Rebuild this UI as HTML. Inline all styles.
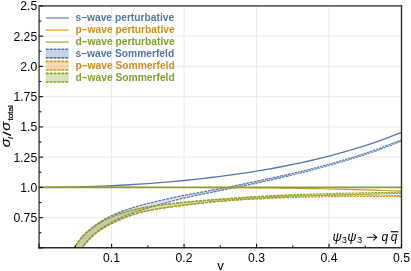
<!DOCTYPE html>
<html><head><meta charset="utf-8"><title>plot</title>
<style>html,body{margin:0;padding:0;background:#fff;overflow:hidden}body{width:411px;height:271px;font-family:"Liberation Sans",sans-serif}</style></head>
<body>
<svg width="411" height="271" viewBox="0 0 411 271" style="display:block;will-change:transform">
<rect width="411" height="271" fill="#fff"/>
<line x1="111.58" x2="111.58" y1="5.9" y2="247.8" stroke="#e3e3e3" stroke-width="0.8"/>
<line x1="184.06" x2="184.06" y1="5.9" y2="247.8" stroke="#e3e3e3" stroke-width="0.8"/>
<line x1="256.54" x2="256.54" y1="5.9" y2="247.8" stroke="#e3e3e3" stroke-width="0.8"/>
<line x1="329.02" x2="329.02" y1="5.9" y2="247.8" stroke="#e3e3e3" stroke-width="0.8"/>
<line x1="39.1" x2="401.5" y1="217.65" y2="217.65" stroke="#e3e3e3" stroke-width="0.8"/>
<line x1="39.1" x2="401.5" y1="187.40" y2="187.40" stroke="#e3e3e3" stroke-width="0.8"/>
<line x1="39.1" x2="401.5" y1="157.15" y2="157.15" stroke="#e3e3e3" stroke-width="0.8"/>
<line x1="39.1" x2="401.5" y1="126.90" y2="126.90" stroke="#e3e3e3" stroke-width="0.8"/>
<line x1="39.1" x2="401.5" y1="96.65" y2="96.65" stroke="#e3e3e3" stroke-width="0.8"/>
<line x1="39.1" x2="401.5" y1="66.40" y2="66.40" stroke="#e3e3e3" stroke-width="0.8"/>
<line x1="39.1" x2="401.5" y1="36.15" y2="36.15" stroke="#e3e3e3" stroke-width="0.8"/>
<clipPath id="c"><rect x="39.1" y="5.9" width="362.4" height="241.9"/></clipPath>
<g clip-path="url(#c)">
<path d="M69.5,257.28 69.8,256.74 70.3,255.55 71.1,253.90 72.0,251.93 73.2,249.73 74.5,247.36 76.0,244.91 77.7,242.45 79.5,240.02 81.4,237.65 83.5,235.36 85.7,233.14 88.1,230.99 90.6,228.89 93.2,226.82 95.9,224.79 98.8,222.82 101.8,220.92 104.9,219.09 108.1,217.35 111.4,215.72 114.9,214.17 118.4,212.71 122.1,211.30 125.9,209.96 129.8,208.67 133.8,207.43 137.9,206.23 142.1,205.06 146.4,203.92 150.8,202.80 155.3,201.69 159.9,200.59 164.6,199.50 169.4,198.43 174.3,197.38 179.3,196.35 184.4,195.34 189.6,194.36 194.8,193.37 200.2,192.37 205.7,191.36 211.2,190.34 216.9,189.29 222.6,188.21 228.4,187.07 234.4,185.87 240.4,184.62 246.5,183.35 252.6,182.05 258.9,180.75 265.3,179.42 271.7,178.05 278.2,176.63 284.8,175.16 291.5,173.63 298.3,172.03 305.2,170.35 312.1,168.60 319.2,166.77 326.3,164.87 333.5,162.89 340.7,160.81 348.1,158.63 355.5,156.34 363.1,153.91 370.7,151.36 378.3,148.66 386.1,145.80 393.9,142.79 401.9,139.60 401.9,140.90 393.9,144.10 386.1,147.12 378.3,149.99 370.7,152.69 363.1,155.25 355.5,157.68 348.1,159.98 340.7,162.17 333.5,164.26 326.3,166.24 319.2,168.16 312.1,170.01 305.2,171.80 298.3,173.51 291.5,175.16 284.8,176.75 278.2,178.29 271.7,179.78 265.3,181.22 258.9,182.61 252.6,183.94 246.5,185.22 240.4,186.47 234.4,187.68 228.4,188.87 222.6,190.03 216.9,191.19 211.2,192.33 205.7,193.47 200.2,194.60 194.8,195.73 189.6,196.87 184.4,198.02 179.3,199.21 174.3,200.47 169.4,201.77 164.6,203.11 159.9,204.46 155.3,205.82 150.8,207.16 146.4,208.48 142.1,209.82 137.9,211.19 133.8,212.62 129.8,214.09 125.9,215.62 122.1,217.20 118.4,218.85 114.9,220.56 111.4,222.35 108.1,224.20 104.9,226.12 101.8,228.11 98.8,230.22 95.9,232.45 93.2,234.83 90.6,237.37 88.1,240.05 85.7,242.87 83.5,245.81 81.4,248.85 79.5,251.96 77.7,255.10 76.0,258.23 74.5,261.30 73.2,264.26 72.0,267.01 71.1,269.47 70.3,271.52 69.8,273.01 69.5,273.69 Z" fill="#5e81b5" fill-opacity="0.22" stroke="none"/>
<path d="M290.0,173.98 284.8,175.16 278.2,176.63 271.7,178.05 265.3,179.42 258.9,180.75 252.6,182.05 246.5,183.35 240.4,184.62 234.4,185.87 228.4,187.07 222.6,188.21 216.9,189.29 211.2,190.34 205.7,191.36 200.2,192.37 194.8,193.37 189.6,194.36 184.4,195.34 179.3,196.35 174.3,197.38 169.4,198.43 164.6,199.50 159.9,200.59 155.3,201.69 150.8,202.80 146.4,203.92 142.1,205.06 137.9,206.23 133.8,207.43 129.8,208.67 125.9,209.96 122.1,211.30 118.4,212.71 114.9,214.17 111.4,215.72 108.1,217.35 104.9,219.09 101.8,220.92 98.8,222.82 95.9,224.79 93.2,226.82 90.6,228.89 88.1,230.99 85.7,233.14 83.5,235.36 81.4,237.65 79.5,240.02 77.7,242.45 76.0,244.91 74.5,247.36 73.2,249.73 72.0,251.93 71.1,253.90 70.3,255.55 69.8,256.74 69.5,257.28" fill="none" stroke="#5878ab" stroke-width="1.28" stroke-dasharray="2.95 0.93" stroke-dashoffset="0.58"/>
<path d="M401.9,139.60 393.9,142.79 386.1,145.80 378.3,148.66 370.7,151.36 363.1,153.91 355.5,156.34 348.1,158.63 340.7,160.81 333.5,162.89 326.3,164.87 319.2,166.77 312.1,168.60 305.2,170.35 298.3,172.03 291.5,173.63 290.0,173.98" fill="none" stroke="#5878ab" stroke-width="1.1" stroke-dasharray="2.3 0.95" stroke-dashoffset="0.49"/>
<path d="M290.0,175.52 284.8,176.75 278.2,178.29 271.7,179.78 265.3,181.22 258.9,182.61 252.6,183.94 246.5,185.22 240.4,186.47 234.4,187.68 228.4,188.87 222.6,190.03 216.9,191.19 211.2,192.33 205.7,193.47 200.2,194.60 194.8,195.73 189.6,196.87 184.4,198.02 179.3,199.21 174.3,200.47 169.4,201.77 164.6,203.11 159.9,204.46 155.3,205.82 150.8,207.16 146.4,208.48 142.1,209.82 137.9,211.19 133.8,212.62 129.8,214.09 125.9,215.62 122.1,217.20 118.4,218.85 114.9,220.56 111.4,222.35 108.1,224.20 104.9,226.12 101.8,228.11 98.8,230.22 95.9,232.45 93.2,234.83 90.6,237.37 88.1,240.05 85.7,242.87 83.5,245.81 81.4,248.85 79.5,251.96 77.7,255.10 76.0,258.23 74.5,261.30 73.2,264.26 72.0,267.01 71.1,269.47 70.3,271.52 69.8,273.01 69.5,273.69" fill="none" stroke="#5878ab" stroke-width="1.28" stroke-dasharray="2.95 0.93" stroke-dashoffset="2.52"/>
<path d="M401.9,140.90 393.9,144.10 386.1,147.12 378.3,149.99 370.7,152.69 363.1,155.25 355.5,157.68 348.1,159.98 340.7,162.17 333.5,164.26 326.3,166.24 319.2,168.16 312.1,170.01 305.2,171.80 298.3,173.51 291.5,175.16 290.0,175.52" fill="none" stroke="#5878ab" stroke-width="1.1" stroke-dasharray="2.3 0.95" stroke-dashoffset="2.11"/>

<path d="M69.5,257.41 69.8,256.87 70.3,255.68 71.1,254.05 72.0,252.09 73.2,249.91 74.5,247.56 76.0,245.14 77.7,242.70 79.5,240.31 81.4,237.99 83.5,235.74 85.7,233.57 88.1,231.47 90.6,229.44 93.2,227.45 95.9,225.50 98.8,223.62 101.8,221.81 104.9,220.10 108.1,218.49 111.4,216.99 114.9,215.60 118.4,214.29 122.1,213.06 125.9,211.90 129.8,210.82 133.8,209.80 137.9,208.85 142.1,207.96 146.4,207.13 150.8,206.37 155.3,205.68 159.9,205.05 164.6,204.48 169.4,203.94 174.3,203.42 179.3,202.91 184.4,202.40 189.6,201.89 194.8,201.40 200.2,200.93 205.7,200.47 211.2,200.03 216.9,199.61 222.6,199.21 228.4,198.81 234.4,198.40 240.4,197.99 246.5,197.60 252.6,197.24 258.9,196.92 265.3,196.61 271.7,196.32 278.2,196.06 284.8,195.82 291.5,195.61 298.3,195.44 305.2,195.28 312.1,195.15 319.2,195.05 326.3,194.98 333.5,194.94 340.7,194.92 348.1,194.93 355.5,194.96 363.1,195.01 370.7,195.09 378.3,195.19 386.1,195.31 393.9,195.46 401.9,195.64 401.9,196.68 393.9,196.57 386.1,196.50 378.3,196.45 370.7,196.43 363.1,196.43 355.5,196.45 348.1,196.50 340.7,196.57 333.5,196.65 326.3,196.75 319.2,196.87 312.1,197.00 305.2,197.15 298.3,197.32 291.5,197.52 284.8,197.73 278.2,197.96 271.7,198.21 265.3,198.48 258.9,198.77 252.6,199.10 246.5,199.45 240.4,199.82 234.4,200.23 228.4,200.66 222.6,201.12 216.9,201.61 211.2,202.15 205.7,202.73 200.2,203.35 194.8,203.98 189.6,204.61 184.4,205.24 179.3,205.85 174.3,206.48 169.4,207.13 164.6,207.80 159.9,208.52 155.3,209.29 150.8,210.13 146.4,211.06 142.1,212.09 137.9,213.24 133.8,214.50 129.8,215.84 125.9,217.27 122.1,218.78 118.4,220.35 114.9,221.98 111.4,223.65 108.1,225.38 104.9,227.18 101.8,229.08 98.8,231.10 95.9,233.25 93.2,235.56 90.6,238.03 88.1,240.66 85.7,243.44 83.5,246.34 81.4,249.34 79.5,252.42 77.7,255.54 76.0,258.65 74.5,261.71 73.2,264.65 72.0,267.40 71.1,269.85 70.3,271.90 69.8,273.38 69.5,274.06 Z" fill="#e19c24" fill-opacity="0.22" stroke="none"/>
<path d="M290.0,195.66 284.8,195.82 278.2,196.06 271.7,196.32 265.3,196.61 258.9,196.92 252.6,197.24 246.5,197.60 240.4,197.99 234.4,198.40 228.4,198.81 222.6,199.21 216.9,199.61 211.2,200.03 205.7,200.47 200.2,200.93 194.8,201.40 189.6,201.89 184.4,202.40 179.3,202.91 174.3,203.42 169.4,203.94 164.6,204.48 159.9,205.05 155.3,205.68 150.8,206.37 146.4,207.13 142.1,207.96 137.9,208.85 133.8,209.80 129.8,210.82 125.9,211.90 122.1,213.06 118.4,214.29 114.9,215.60 111.4,216.99 108.1,218.49 104.9,220.10 101.8,221.81 98.8,223.62 95.9,225.50 93.2,227.45 90.6,229.44 88.1,231.47 85.7,233.57 83.5,235.74 81.4,237.99 79.5,240.31 77.7,242.70 76.0,245.14 74.5,247.56 73.2,249.91 72.0,252.09 71.1,254.05 70.3,255.68 69.8,256.87 69.5,257.41" fill="none" stroke="#d59322" stroke-width="1.28" stroke-dasharray="2.95 0.93" stroke-dashoffset="1.16"/>
<path d="M401.9,195.64 393.9,195.46 386.1,195.31 378.3,195.19 370.7,195.09 363.1,195.01 355.5,194.96 348.1,194.93 340.7,194.92 333.5,194.94 326.3,194.98 319.2,195.05 312.1,195.15 305.2,195.28 298.3,195.44 291.5,195.61 290.0,195.66" fill="none" stroke="#d59322" stroke-width="1.1" stroke-dasharray="2.3 0.95" stroke-dashoffset="0.97"/>
<path d="M290.0,197.56 284.8,197.73 278.2,197.96 271.7,198.21 265.3,198.48 258.9,198.77 252.6,199.10 246.5,199.45 240.4,199.82 234.4,200.23 228.4,200.66 222.6,201.12 216.9,201.61 211.2,202.15 205.7,202.73 200.2,203.35 194.8,203.98 189.6,204.61 184.4,205.24 179.3,205.85 174.3,206.48 169.4,207.13 164.6,207.80 159.9,208.52 155.3,209.29 150.8,210.13 146.4,211.06 142.1,212.09 137.9,213.24 133.8,214.50 129.8,215.84 125.9,217.27 122.1,218.78 118.4,220.35 114.9,221.98 111.4,223.65 108.1,225.38 104.9,227.18 101.8,229.08 98.8,231.10 95.9,233.25 93.2,235.56 90.6,238.03 88.1,240.66 85.7,243.44 83.5,246.34 81.4,249.34 79.5,252.42 77.7,255.54 76.0,258.65 74.5,261.71 73.2,264.65 72.0,267.40 71.1,269.85 70.3,271.90 69.8,273.38 69.5,274.06" fill="none" stroke="#d59322" stroke-width="1.28" stroke-dasharray="2.95 0.93" stroke-dashoffset="3.10"/>
<path d="M401.9,196.68 393.9,196.57 386.1,196.50 378.3,196.45 370.7,196.43 363.1,196.43 355.5,196.45 348.1,196.50 340.7,196.57 333.5,196.65 326.3,196.75 319.2,196.87 312.1,197.00 305.2,197.15 298.3,197.32 291.5,197.52 290.0,197.56" fill="none" stroke="#d59322" stroke-width="1.1" stroke-dasharray="2.3 0.95" stroke-dashoffset="2.60"/>

<path d="M69.5,257.41 69.8,256.87 70.3,255.68 71.1,254.05 72.0,252.09 73.2,249.91 74.5,247.56 76.0,245.14 77.7,242.70 79.5,240.31 81.4,237.99 83.5,235.74 85.7,233.57 88.1,231.47 90.6,229.44 93.2,227.45 95.9,225.50 98.8,223.61 101.8,221.81 104.9,220.09 108.1,218.48 111.4,216.98 114.9,215.59 118.4,214.28 122.1,213.05 125.9,211.89 129.8,210.80 133.8,209.78 137.9,208.83 142.1,207.94 146.4,207.10 150.8,206.34 155.3,205.64 159.9,205.01 164.6,204.43 169.4,203.88 174.3,203.35 179.3,202.84 184.4,202.31 189.6,201.79 194.8,201.28 200.2,200.79 205.7,200.32 211.2,199.86 216.9,199.42 222.6,198.99 228.4,198.55 234.4,198.11 240.4,197.67 246.5,197.24 252.6,196.83 258.9,196.46 265.3,196.10 271.7,195.75 278.2,195.41 284.8,195.10 291.5,194.81 298.3,194.55 305.2,194.30 312.1,194.06 319.2,193.84 326.3,193.64 333.5,193.46 340.7,193.29 348.1,193.13 355.5,192.98 363.1,192.84 370.7,192.71 378.3,192.58 386.1,192.46 393.9,192.34 401.9,192.24 401.9,193.27 393.9,193.46 386.1,193.65 378.3,193.85 370.7,194.05 363.1,194.26 355.5,194.48 348.1,194.71 340.7,194.94 333.5,195.18 326.3,195.42 319.2,195.66 312.1,195.91 305.2,196.17 298.3,196.44 291.5,196.72 284.8,197.01 278.2,197.31 271.7,197.63 265.3,197.96 258.9,198.31 252.6,198.69 246.5,199.08 240.4,199.50 234.4,199.94 228.4,200.41 222.6,200.89 216.9,201.41 211.2,201.98 205.7,202.58 200.2,203.21 194.8,203.86 189.6,204.51 184.4,205.15 179.3,205.78 174.3,206.41 169.4,207.07 164.6,207.75 159.9,208.48 155.3,209.26 150.8,210.10 146.4,211.03 142.1,212.07 137.9,213.23 133.8,214.48 129.8,215.83 125.9,217.26 122.1,218.77 118.4,220.34 114.9,221.97 111.4,223.65 108.1,225.38 104.9,227.18 101.8,229.08 98.8,231.09 95.9,233.25 93.2,235.56 90.6,238.03 88.1,240.66 85.7,243.43 83.5,246.33 81.4,249.34 79.5,252.42 77.7,255.53 76.0,258.65 74.5,261.71 73.2,264.65 72.0,267.40 71.1,269.85 70.3,271.90 69.8,273.38 69.5,274.06 Z" fill="#8fb032" fill-opacity="0.22" stroke="none"/>
<path d="M290.0,194.88 284.8,195.10 278.2,195.41 271.7,195.75 265.3,196.10 258.9,196.46 252.6,196.83 246.5,197.24 240.4,197.67 234.4,198.11 228.4,198.55 222.6,198.99 216.9,199.42 211.2,199.86 205.7,200.32 200.2,200.79 194.8,201.28 189.6,201.79 184.4,202.31 179.3,202.84 174.3,203.35 169.4,203.88 164.6,204.43 159.9,205.01 155.3,205.64 150.8,206.34 146.4,207.10 142.1,207.94 137.9,208.83 133.8,209.78 129.8,210.80 125.9,211.89 122.1,213.05 118.4,214.28 114.9,215.59 111.4,216.98 108.1,218.48 104.9,220.09 101.8,221.81 98.8,223.61 95.9,225.50 93.2,227.45 90.6,229.44 88.1,231.47 85.7,233.57 83.5,235.74 81.4,237.99 79.5,240.31 77.7,242.70 76.0,245.14 74.5,247.56 73.2,249.91 72.0,252.09 71.1,254.05 70.3,255.68 69.8,256.87 69.5,257.41" fill="none" stroke="#86a52f" stroke-width="1.28" stroke-dasharray="2.95 0.93" stroke-dashoffset="1.16"/>
<path d="M401.9,192.24 393.9,192.34 386.1,192.46 378.3,192.58 370.7,192.71 363.1,192.84 355.5,192.98 348.1,193.13 340.7,193.29 333.5,193.46 326.3,193.64 319.2,193.84 312.1,194.06 305.2,194.30 298.3,194.55 291.5,194.81 290.0,194.88" fill="none" stroke="#86a52f" stroke-width="1.1" stroke-dasharray="2.3 0.95" stroke-dashoffset="0.97"/>
<path d="M290.0,196.78 284.8,197.01 278.2,197.31 271.7,197.63 265.3,197.96 258.9,198.31 252.6,198.69 246.5,199.08 240.4,199.50 234.4,199.94 228.4,200.41 222.6,200.89 216.9,201.41 211.2,201.98 205.7,202.58 200.2,203.21 194.8,203.86 189.6,204.51 184.4,205.15 179.3,205.78 174.3,206.41 169.4,207.07 164.6,207.75 159.9,208.48 155.3,209.26 150.8,210.10 146.4,211.03 142.1,212.07 137.9,213.23 133.8,214.48 129.8,215.83 125.9,217.26 122.1,218.77 118.4,220.34 114.9,221.97 111.4,223.65 108.1,225.38 104.9,227.18 101.8,229.08 98.8,231.09 95.9,233.25 93.2,235.56 90.6,238.03 88.1,240.66 85.7,243.43 83.5,246.33 81.4,249.34 79.5,252.42 77.7,255.53 76.0,258.65 74.5,261.71 73.2,264.65 72.0,267.40 71.1,269.85 70.3,271.90 69.8,273.38 69.5,274.06" fill="none" stroke="#86a52f" stroke-width="1.28" stroke-dasharray="2.95 0.93" stroke-dashoffset="3.10"/>
<path d="M401.9,193.27 393.9,193.46 386.1,193.65 378.3,193.85 370.7,194.05 363.1,194.26 355.5,194.48 348.1,194.71 340.7,194.94 333.5,195.18 326.3,195.42 319.2,195.66 312.1,195.91 305.2,196.17 298.3,196.44 291.5,196.72 290.0,196.78" fill="none" stroke="#86a52f" stroke-width="1.1" stroke-dasharray="2.3 0.95" stroke-dashoffset="2.60"/>

<path d="M39.1,187.40 48.2,187.37 57.2,187.30 66.3,187.16 75.3,186.98 84.4,186.75 93.5,186.46 102.5,186.11 111.6,185.72 120.6,185.27 129.7,184.76 138.8,184.20 147.8,183.58 156.9,182.90 165.9,182.16 175.0,181.36 184.1,180.50 193.1,179.58 202.2,178.59 211.2,177.53 220.3,176.40 229.4,175.20 238.4,173.92 247.5,172.56 256.5,171.12 265.6,169.60 274.7,167.98 283.7,166.27 292.8,164.46 301.8,162.54 310.9,160.51 320.0,158.36 329.0,156.09 338.1,153.68 347.1,151.14 356.2,148.44 365.3,145.59 374.3,142.57 383.4,139.37 392.4,135.98 401.5,132.39" fill="none" stroke="#5878ab" stroke-width="1.35"/>
<path d="M39.1,187.40 48.2,187.40 57.2,187.40 66.3,187.40 75.3,187.40 84.4,187.40 93.5,187.40 102.5,187.40 111.6,187.41 120.6,187.41 129.7,187.41 138.8,187.42 147.8,187.43 156.9,187.44 165.9,187.46 175.0,187.47 184.1,187.50 193.1,187.52 202.2,187.55 211.2,187.59 220.3,187.63 229.4,187.68 238.4,187.74 247.5,187.81 256.5,187.89 265.6,187.97 274.7,188.07 283.7,188.18 292.8,188.30 301.8,188.44 310.9,188.59 320.0,188.75 329.0,188.93 338.1,189.14 347.1,189.36 356.2,189.60 365.3,189.86 374.3,190.14 383.4,190.45 392.4,190.79 401.5,191.15" fill="none" stroke="#d59322" stroke-width="1.1"/>
<linearGradient id="gg" gradientUnits="userSpaceOnUse" x1="39" y1="0" x2="402" y2="0"><stop offset="0" stop-color="#949b30"/><stop offset="0.6" stop-color="#949b30"/><stop offset="0.85" stop-color="#86a52f"/><stop offset="1" stop-color="#86a52f"/></linearGradient>
<path d="M39.1,187.40 L401.5,187.41" fill="none" stroke="url(#gg)" stroke-width="1.6"/>
</g>
<path d="M39.1,248.5 L39.1,5.9 L402.1,5.9" fill="none" stroke="#646464" stroke-width="1.7"/>
<path d="M38.300000000000004,247.8 L401.5,247.8 L401.5,5.1000000000000005" fill="none" stroke="#2a2a2a" stroke-width="1.4"/>
<line x1="39.1" x2="43.1" y1="247.90" y2="247.90" stroke="#111" stroke-width="1.1"/>
<line x1="39.1" x2="41.4" y1="232.78" y2="232.78" stroke="#111" stroke-width="1.1"/>
<line x1="39.1" x2="43.1" y1="217.65" y2="217.65" stroke="#111" stroke-width="1.1"/>
<line x1="39.1" x2="41.4" y1="202.53" y2="202.53" stroke="#111" stroke-width="1.1"/>
<line x1="39.1" x2="43.1" y1="187.40" y2="187.40" stroke="#111" stroke-width="1.1"/>
<line x1="39.1" x2="41.4" y1="172.28" y2="172.28" stroke="#111" stroke-width="1.1"/>
<line x1="39.1" x2="43.1" y1="157.15" y2="157.15" stroke="#111" stroke-width="1.1"/>
<line x1="39.1" x2="41.4" y1="142.03" y2="142.03" stroke="#111" stroke-width="1.1"/>
<line x1="39.1" x2="43.1" y1="126.90" y2="126.90" stroke="#111" stroke-width="1.1"/>
<line x1="39.1" x2="41.4" y1="111.78" y2="111.78" stroke="#111" stroke-width="1.1"/>
<line x1="39.1" x2="43.1" y1="96.65" y2="96.65" stroke="#111" stroke-width="1.1"/>
<line x1="39.1" x2="41.4" y1="81.53" y2="81.53" stroke="#111" stroke-width="1.1"/>
<line x1="39.1" x2="43.1" y1="66.40" y2="66.40" stroke="#111" stroke-width="1.1"/>
<line x1="39.1" x2="41.4" y1="51.28" y2="51.28" stroke="#111" stroke-width="1.1"/>
<line x1="39.1" x2="43.1" y1="36.15" y2="36.15" stroke="#111" stroke-width="1.1"/>
<line x1="39.1" x2="41.4" y1="21.03" y2="21.03" stroke="#111" stroke-width="1.1"/>
<line x1="39.1" x2="43.1" y1="5.90" y2="5.90" stroke="#111" stroke-width="1.1"/>
<line x1="39.10" x2="39.10" y1="247.8" y2="243.8" stroke="#111" stroke-width="1.1"/>
<line x1="75.34" x2="75.34" y1="247.8" y2="245.5" stroke="#111" stroke-width="1.1"/>
<line x1="111.58" x2="111.58" y1="247.8" y2="243.8" stroke="#111" stroke-width="1.1"/>
<line x1="147.82" x2="147.82" y1="247.8" y2="245.5" stroke="#111" stroke-width="1.1"/>
<line x1="184.06" x2="184.06" y1="247.8" y2="243.8" stroke="#111" stroke-width="1.1"/>
<line x1="220.30" x2="220.30" y1="247.8" y2="245.5" stroke="#111" stroke-width="1.1"/>
<line x1="256.54" x2="256.54" y1="247.8" y2="243.8" stroke="#111" stroke-width="1.1"/>
<line x1="292.78" x2="292.78" y1="247.8" y2="245.5" stroke="#111" stroke-width="1.1"/>
<line x1="329.02" x2="329.02" y1="247.8" y2="243.8" stroke="#111" stroke-width="1.1"/>
<line x1="365.26" x2="365.26" y1="247.8" y2="245.5" stroke="#111" stroke-width="1.1"/>
<line x1="401.50" x2="401.50" y1="247.8" y2="243.8" stroke="#111" stroke-width="1.1"/>
<g font-family="Liberation Sans, sans-serif" font-size="12.2" fill="#000">
<text x="37.2" y="222.10" text-anchor="end">0.75</text>
<text x="37.2" y="191.85" text-anchor="end">1.0</text>
<text x="37.2" y="161.60" text-anchor="end">1.25</text>
<text x="37.2" y="131.35" text-anchor="end">1.5</text>
<text x="37.2" y="101.10" text-anchor="end">1.75</text>
<text x="37.2" y="70.85" text-anchor="end">2.0</text>
<text x="37.2" y="40.60" text-anchor="end">2.25</text>
<text x="37.2" y="10.35" text-anchor="end">2.5</text>
<text x="111.58" y="261.9" text-anchor="middle">0.1</text>
<text x="184.06" y="261.9" text-anchor="middle">0.2</text>
<text x="256.54" y="261.9" text-anchor="middle">0.3</text>
<text x="329.02" y="261.9" text-anchor="middle">0.4</text>
<text x="401.50" y="261.9" text-anchor="middle">0.5</text>
</g>
<text x="220.6" y="269.6" text-anchor="middle" font-family="Liberation Sans, sans-serif" font-size="13.3" fill="#000">v</text>
<text transform="translate(10.1,147.3) rotate(-90) scale(1.25,1)" x="0" y="0" font-family="Liberation Sans, sans-serif" font-size="12" font-style="italic" fill="#000" stroke="#000" stroke-width="0.1">σ</text>
<text transform="translate(12.9,138.9) rotate(-90) scale(1.15,1)" x="0" y="0" font-family="Liberation Sans, sans-serif" font-size="7.8" font-style="italic" fill="#000" stroke="#000" stroke-width="0.1">l</text>
<text transform="translate(10.8,136.3) rotate(-90) scale(1.5,1)" x="0" y="0" font-family="Liberation Sans, sans-serif" font-size="11.6" fill="#000" stroke="#000" stroke-width="0.1">/</text>
<text transform="translate(10.1,130.7) rotate(-90) scale(1.25,1)" x="0" y="0" font-family="Liberation Sans, sans-serif" font-size="12" font-style="italic" fill="#000" stroke="#000" stroke-width="0.1">σ</text>
<text transform="translate(12.9,120.6) rotate(-90) scale(1.1,1)" x="0" y="0" font-family="Liberation Sans, sans-serif" font-size="7.4" fill="#000" stroke="#000" stroke-width="0.22">total</text>
<text x="332.5" y="241.1" font-family="Liberation Sans, sans-serif" fill="#000" font-size="12.8" font-style="italic">ψ</text>
<text x="341.8" y="242.8" font-family="Liberation Sans, sans-serif" fill="#000" font-size="9.4">3</text>
<text x="347.35" y="241.1" font-family="Liberation Sans, sans-serif" fill="#000" font-size="12.8" font-style="italic">ψ</text>
<text x="357.0" y="242.8" font-family="Liberation Sans, sans-serif" fill="#000" font-size="9.4">3</text>
<path d="M367.1,237.3 L376.6,237.3 M373.2,234.3 L376.8,237.3 L373.2,240.3" fill="none" stroke="#111" stroke-width="1.1" stroke-linejoin="miter"/>
<text x="381.6" y="240.8" font-family="Liberation Sans, sans-serif" fill="#000" font-size="12" font-style="italic">q</text>
<text x="390.8" y="240.8" font-family="Liberation Sans, sans-serif" fill="#000" font-size="12" font-style="italic">q</text>
<line x1="390.9" x2="398.3" y1="231.7" y2="231.7" stroke="#222" stroke-width="1.3"/>
<line x1="45.8" x2="68.8" y1="18.00" y2="18.00" stroke="#5e81b5" stroke-width="1.2"/>
<text x="75.6" y="20.55" font-family="Liberation Sans, sans-serif" font-size="10.25" font-weight="bold" fill="#5675a5">s–wave perturbative</text>
<line x1="45.8" x2="68.8" y1="30.04" y2="30.04" stroke="#e19c24" stroke-width="1.2"/>
<text x="75.6" y="32.59" font-family="Liberation Sans, sans-serif" font-size="10.25" font-weight="bold" fill="#cd8e21">p–wave perturbative</text>
<line x1="45.8" x2="68.8" y1="42.08" y2="42.08" stroke="#8fb032" stroke-width="1.2"/>
<text x="75.6" y="44.63" font-family="Liberation Sans, sans-serif" font-size="10.25" font-weight="bold" fill="#82a02e">d–wave perturbative</text>
<rect x="45.8" y="49.32" width="23" height="8.6" fill="#5e81b5" fill-opacity="0.35"/>
<line x1="45.8" x2="68.8" y1="49.32" y2="49.32" stroke="#5878ab" stroke-width="1.6" stroke-dasharray="2.95 0.93"/>
<line x1="45.8" x2="68.8" y1="57.92" y2="57.92" stroke="#5878ab" stroke-width="1.6" stroke-dasharray="2.95 0.93"/>
<text x="75.6" y="56.67" font-family="Liberation Sans, sans-serif" font-size="10.25" font-weight="bold" fill="#5675a5">s–wave Sommerfeld</text>
<rect x="45.8" y="61.36" width="23" height="8.6" fill="#e19c24" fill-opacity="0.35"/>
<line x1="45.8" x2="68.8" y1="61.36" y2="61.36" stroke="#d59322" stroke-width="1.6" stroke-dasharray="2.95 0.93"/>
<line x1="45.8" x2="68.8" y1="69.96" y2="69.96" stroke="#d59322" stroke-width="1.6" stroke-dasharray="2.95 0.93"/>
<text x="75.6" y="68.71" font-family="Liberation Sans, sans-serif" font-size="10.25" font-weight="bold" fill="#cd8e21">p–wave Sommerfeld</text>
<rect x="45.8" y="73.40" width="23" height="8.6" fill="#8fb032" fill-opacity="0.35"/>
<line x1="45.8" x2="68.8" y1="73.40" y2="73.40" stroke="#86a52f" stroke-width="1.6" stroke-dasharray="2.95 0.93"/>
<line x1="45.8" x2="68.8" y1="82.00" y2="82.00" stroke="#86a52f" stroke-width="1.6" stroke-dasharray="2.95 0.93"/>
<text x="75.6" y="80.75" font-family="Liberation Sans, sans-serif" font-size="10.25" font-weight="bold" fill="#82a02e">d–wave Sommerfeld</text>
</svg>
</body></html>
